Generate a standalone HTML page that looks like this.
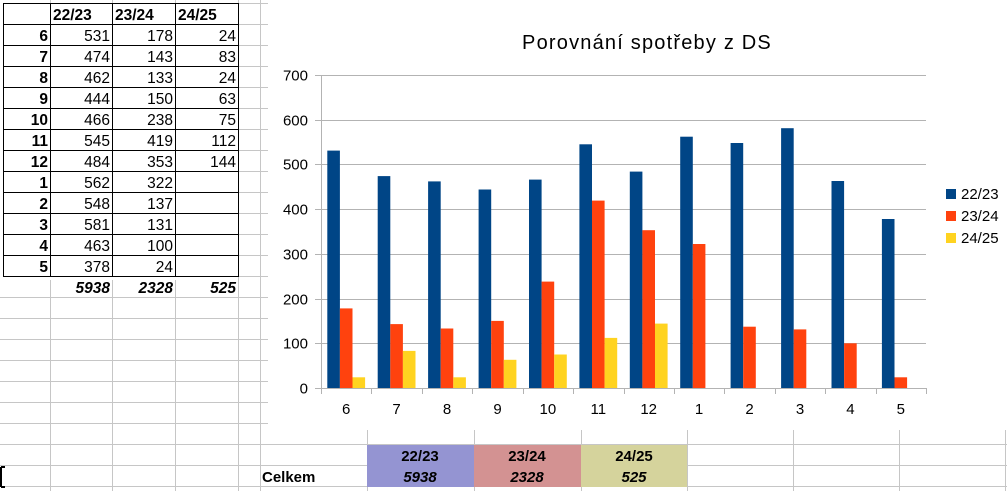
<!DOCTYPE html>
<html><head><meta charset="utf-8">
<style>
html,body{margin:0;padding:0;background:#fff;width:1007px;height:491px;overflow:hidden}
svg{display:block;font-family:"Liberation Sans",sans-serif}
</style></head><body>
<svg id="s" width="1007" height="491" viewBox="0 0 1007 491" xmlns="http://www.w3.org/2000/svg"></svg>
<script>
const s=document.getElementById('s');let h='';
const cols=[50,112,175,238,260,367,474,581,687,793,899,1005];
const rows=[];for(let y=24;y<491;y+=21)rows.push(y);
for(const x of cols)h+=`<line x1="${x+.5}" y1="0" x2="${x+.5}" y2="491" stroke="#c6c6c6"/>`;
for(const y of rows)h+=`<line x1="0" y1="${y+.5}" x2="1007" y2="${y+.5}" stroke="#c6c6c6"/>`;
h+=`<line x1="0" y1="3.5" x2="1007" y2="3.5" stroke="#c6c6c6"/>`;
h+=`<rect x="367" y="445" width="107" height="42" fill="#9494d2"/>`;
h+=`<rect x="474" y="445" width="107" height="42" fill="#d39292"/>`;
h+=`<rect x="581" y="445" width="106" height="42" fill="#d5d39c"/>`;
const bt=[["22/23","5938",420],["23/24","2328",527],["24/25","525",634]];
for(const [a,b,x] of bt){h+=`<text x="${x}" y="461" font-size="15" font-weight="bold" text-anchor="middle">${a}</text><text x="${x}" y="482" font-size="15" font-weight="bold" font-style="italic" text-anchor="middle">${b}</text>`;}
h+=`<text x="262" y="482" font-size="15" font-weight="bold">Celkem</text>`;
h+=`<path d="M1 467 H5 M1 467 V487 M1 487 H5" stroke="#000" stroke-width="2" fill="none"/>`;
h+=`<rect x="268" y="0" width="739" height="430" fill="#fff"/>`;
const lab=[6,7,8,9,10,11,12,1,2,3,4,5];
const A=[531,474,462,444,466,545,484,562,548,581,463,378];
const B=[178,143,133,150,238,419,353,322,137,131,100,24];
const C=[24,83,24,63,75,112,144];
h+=`<rect x="0" y="3" width="238" height="277" fill="#fff"/>`;
for(let i=0;i<=13;i++){const y=(i==0?3.5:24.5+21*(i-1));h+=`<line x1="3" x2="238" y1="${y}" y2="${y}" stroke="#000"/>`;}
for(const x of [3,50,112,175,238])h+=`<line x1="${x+.5}" x2="${x+.5}" y1="3" y2="277" stroke="#000"/>`;
h+=`<text x="53" y="20" font-size="15.5" font-weight="bold">22/23</text><text x="115" y="20" font-size="15.5" font-weight="bold">23/24</text><text x="178" y="20" font-size="15.5" font-weight="bold">24/25</text>`;
for(let i=0;i<12;i++){const y=41+21*i;
h+=`<text x="48" y="${y}" font-size="15.5" font-weight="bold" text-anchor="end">${lab[i]}</text>`;
h+=`<text x="110" y="${y}" font-size="15.5" text-anchor="end">${A[i]}</text>`;
h+=`<text x="173" y="${y}" font-size="15.5" text-anchor="end">${B[i]}</text>`;
if(i<C.length)h+=`<text x="236" y="${y}" font-size="15.5" text-anchor="end">${C[i]}</text>`;}
h+=`<text x="110" y="293" font-size="15.5" font-weight="bold" font-style="italic" text-anchor="end">5938</text><text x="173" y="293" font-size="15.5" font-weight="bold" font-style="italic" text-anchor="end">2328</text><text x="236" y="293" font-size="15.5" font-weight="bold" font-style="italic" text-anchor="end">525</text>`;
const L=321,R=926,T=75,Z=388,sc=(Z-T)/700,cw=(R-L)/12;
h+=`<text x="647" y="49" font-size="20" letter-spacing="1.2" text-anchor="middle">Porovnání spotřeby z DS</text>`;
for(let v=0;v<=700;v+=100){const y=Math.round(Z-v*sc)+.5;
h+=`<line x1="${L-6}" x2="${R}" y1="${y}" y2="${y}" stroke="#b3b3b3"/>`;
h+=`<text x="308" y="${y+5}" font-size="15" text-anchor="end">${v}</text>`;}
h+=`<line x1="${L+.5}" x2="${L+.5}" y1="${T}" y2="${Z+6}" stroke="#b3b3b3"/>`;
for(let i=1;i<=12;i++){const x=Math.round(L+cw*i)+.5;h+=`<line x1="${x}" x2="${x}" y1="${Z}" y2="${Z+6}" stroke="#b3b3b3"/>`;}
const bw=cw/4,cl=["#004586","#ff420e","#ffd320"];
for(let i=0;i<12;i++){const x0=L+cw*i+bw/2;
[A[i],B[i],C[i]].forEach((v,j)=>{if(v==null)return;const hh=v*sc;h+=`<rect x="${(x0+j*bw).toFixed(1)}" y="${(Z-hh).toFixed(1)}" width="${bw.toFixed(1)}" height="${hh.toFixed(1)}" fill="${cl[j]}"/>`;});
h+=`<text x="${(L+cw*(i+.5)).toFixed(1)}" y="414" font-size="15" text-anchor="middle">${lab[i]}</text>`;}
["22/23","23/24","24/25"].forEach((t,j)=>{const y=189+22*j;h+=`<rect x="946" y="${y}" width="10" height="10" fill="${cl[j]}"/><text x="961" y="${y+10}" font-size="15">${t}</text>`;});
s.innerHTML=h;
</script>
</body></html>
